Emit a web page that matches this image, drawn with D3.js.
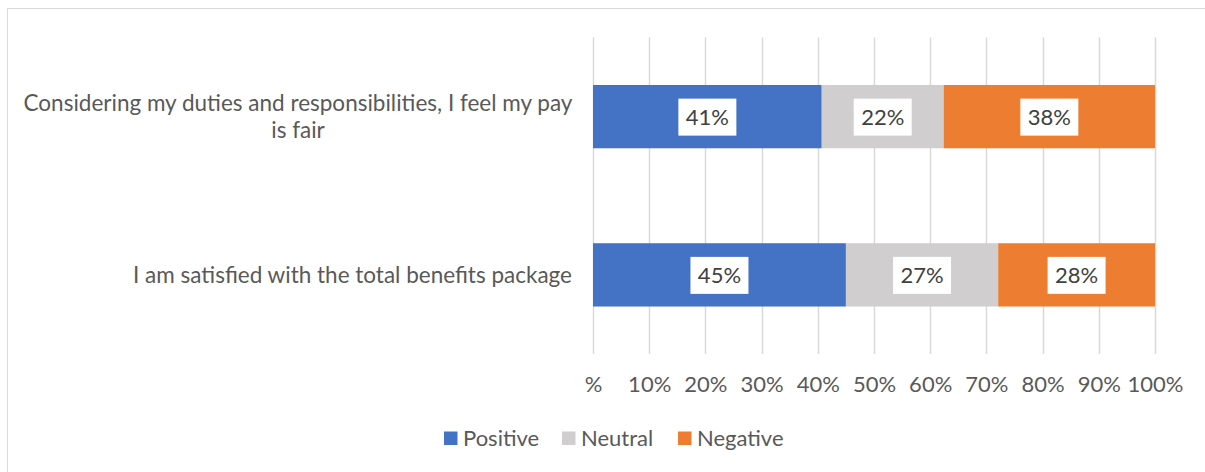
<!DOCTYPE html>
<html>
<head>
<meta charset="utf-8">
<script src="https://cdn.jsdelivr.net/npm/d3@7/dist/d3.min.js"></script>
<style>
  html, body { margin: 0; padding: 0; background: #fff; }
  svg { display: block; font-family: Lato, "Open Sans", sans-serif; }
</style>
</head>
<body>
<svg id="chart" width="1205" height="472"></svg>
<script>
// Survey statements (top to bottom) and share of responses
const categories = [
  ["Considering my duties and responsibilities, I feel my pay", "is fair"],
  ["I am satisfied with the total benefits package"]
];
const seriesNames = ["Positive", "Neutral", "Negative"];
const positive = [0.407, 0.450];
const neutral  = [0.217, 0.271];
const negative = [0.376, 0.279];
const tickValues = [0, 0.1, 0.2, 0.3, 0.4, 0.5, 0.6, 0.7, 0.8, 0.9, 1.0];
const tickLabels = ["%", "10%", "20%", "30%", "40%", "50%", "60%", "70%", "80%", "90%", "100%"];
const colors = ["#4472C4", "#D0CECE", "#ED7D31"];

const FS = "22px";
const FS_CAT = "22.5px";
const svg = d3.select("#chart");

// chart frame
svg.append("rect")
  .attr("x", 7.5).attr("y", 8.5)
  .attr("width", 1205).attr("height", 480)
  .attr("fill", "none").attr("stroke", "#D9D9D9").attr("stroke-width", 1);

const rows = categories.map((c, i) => ({
  key: i, label: c,
  Positive: positive[i], Neutral: neutral[i], Negative: negative[i]
}));

const x = d3.scaleLinear().domain([0, 1]).range([593, 1155]);
const y = d3.scaleBand().domain(rows.map(d => d.key))
  .range([37.5, 354]).paddingInner(0.6).paddingOuter(0.3);
const color = d3.scaleOrdinal().domain(seriesNames).range(colors);

// vertical gridlines
svg.append("g")
  .selectAll("line").data(tickValues).join("line")
  .attr("x1", d => Math.round(x(d)) + 0.5).attr("x2", d => Math.round(x(d)) + 0.5)
  .attr("y1", 37.5).attr("y2", 354)
  .attr("stroke", "#D9D9D9").attr("stroke-width", 1.5);

// x axis labels
const xAxis = d3.axisBottom(x).tickValues(tickValues)
  .tickFormat((d, i) => tickLabels[i]).tickSize(0).tickPadding(0);
const gx = svg.append("g").attr("transform", "translate(0,0)").call(xAxis);
gx.select(".domain").remove();
gx.selectAll("text")
  .attr("y", 392).attr("dy", 0)
  .attr("fill", "#595959")
  .style("font-size", FS)
  .style("font-family", "Lato, 'Open Sans', sans-serif");

// stacked bars
const stack = d3.stack().keys(seriesNames)(rows);
const layers = svg.append("g").selectAll("g").data(stack).join("g")
  .attr("fill", d => color(d.key));
layers.selectAll("rect").data(d => d).join("rect")
  .attr("x", d => x(d[0]))
  .attr("width", d => x(d[1]) - x(d[0]))
  .attr("y", d => y(d.data.key))
  .attr("height", y.bandwidth());

// data labels in white boxes
const fmt = d3.format(".0%");
const labels = svg.append("g").selectAll("g")
  .data(stack.flatMap(s => s.map(d => ({ v: d[1] - d[0], x0: d[0], x1: d[1], key: d.data.key }))))
  .join("g")
  .attr("transform", d => `translate(${(x(d.x0) + x(d.x1)) / 2},${y(d.key) + y.bandwidth() / 2})`);
labels.append("rect")
  .attr("x", -29).attr("y", -18).attr("width", 58).attr("height", 37)
  .attr("fill", "#fff");
labels.append("text")
  .attr("text-anchor", "middle").attr("dy", "0.36em")
  .attr("fill", "#404040").style("font-size", FS)
  .text(d => fmt(d.v));

// category labels
const catG = svg.append("g");
rows.forEach(r => {
  const cy = y(r.key) + y.bandwidth() / 2;
  const lines = r.label;
  const lh = 27;
  if (lines.length > 1) {
    const t = catG.append("text")
      .attr("fill", "#595959").style("font-size", FS_CAT)
      .attr("text-anchor", "middle");
    lines.forEach((ln, i) => {
      t.append("tspan")
        .attr("x", 298)
        .attr("y", cy - lh * (lines.length - 1) / 2 + i * lh)
        .attr("dy", "0.35em")
        .text(ln);
    });
  } else {
    catG.append("text")
      .attr("fill", "#595959").style("font-size", FS_CAT)
      .attr("text-anchor", "end")
      .attr("x", 572).attr("y", cy).attr("dy", "0.35em")
      .text(lines[0]);
  }
});

// legend
const legendX = [444, 562, 678];
const lg = svg.append("g").selectAll("g").data(seriesNames).join("g")
  .attr("transform", (d, i) => `translate(${legendX[i]},438.5)`);
lg.append("rect").attr("x", 0).attr("y", -7).attr("width", 13.5).attr("height", 13.5)
  .attr("fill", d => color(d));
lg.append("text").attr("x", 19).attr("dy", "0.35em")
  .attr("fill", "#595959").style("font-size", FS)
  .text(d => d);
</script>
</body>
</html>
